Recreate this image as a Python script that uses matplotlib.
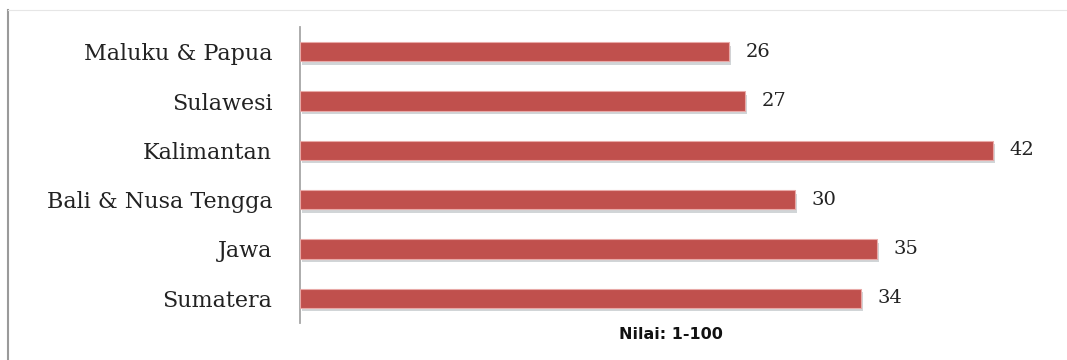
import matplotlib
matplotlib.use("Agg")
import matplotlib.pyplot as plt
import matplotlib.patheffects as pe
from matplotlib.lines import Line2D

# bottom to top
regions = ["Sumatera", "Jawa", "Bali & Nusa Tengga", "Kalimantan", "Sulawesi", "Maluku & Papua"]
scores = [34, 35, 30, 42, 27, 26]
xlabel = "Nilai: 1-100"

BAR = "#c0504d"

fig = plt.figure(figsize=(10.67, 3.6), dpi=100)
ax = fig.add_axes([300 / 1067, 37 / 360, 742 / 1067, 296 / 360])

shadow = [pe.SimplePatchShadow(offset=(1.5, -2.5), shadow_rgbFace="#9aa3a8", alpha=0.45), pe.Normal()]
bars = ax.barh(range(len(regions)), scores, height=0.39, color=BAR,
               edgecolor="#e8a9a7", linewidth=0.8, zorder=3)
for b in bars:
    b.set_path_effects(shadow)

for i, v in enumerate(scores):
    ax.annotate(str(v), (v, i), xytext=(12, 0), textcoords="offset points",
                va="center", ha="left", fontsize=14, family="DejaVu Serif", color="#222222")

ax.set_xlim(0, 45)
ax.set_ylim(-0.5, len(regions) - 0.5)
ax.set_yticks(range(len(regions)))
ax.set_yticklabels(regions, family="DejaVu Serif", fontsize=16, color="#222222")
ax.tick_params(axis="y", length=0, pad=20)
ax.set_xticks([])
for s in ("top", "right", "bottom"):
    ax.spines[s].set_visible(False)
ax.spines["left"].set_color("#a6a6a6")
ax.spines["left"].set_linewidth(1.3)
ax.set_xlabel(xlabel, family="DejaVu Sans", fontweight="bold", fontsize=11.5, color="#111111", labelpad=3)

# outer frame lines of the original picture
fig.add_artist(Line2D([8 / 1067, 8 / 1067], [0, 350 / 360], color="#9a9a9a", lw=1.5))
fig.add_artist(Line2D([8 / 1067, 1], [350 / 360, 350 / 360], color="#e6e6e6", lw=0.8))

fig.savefig("out.png", dpi=100)
